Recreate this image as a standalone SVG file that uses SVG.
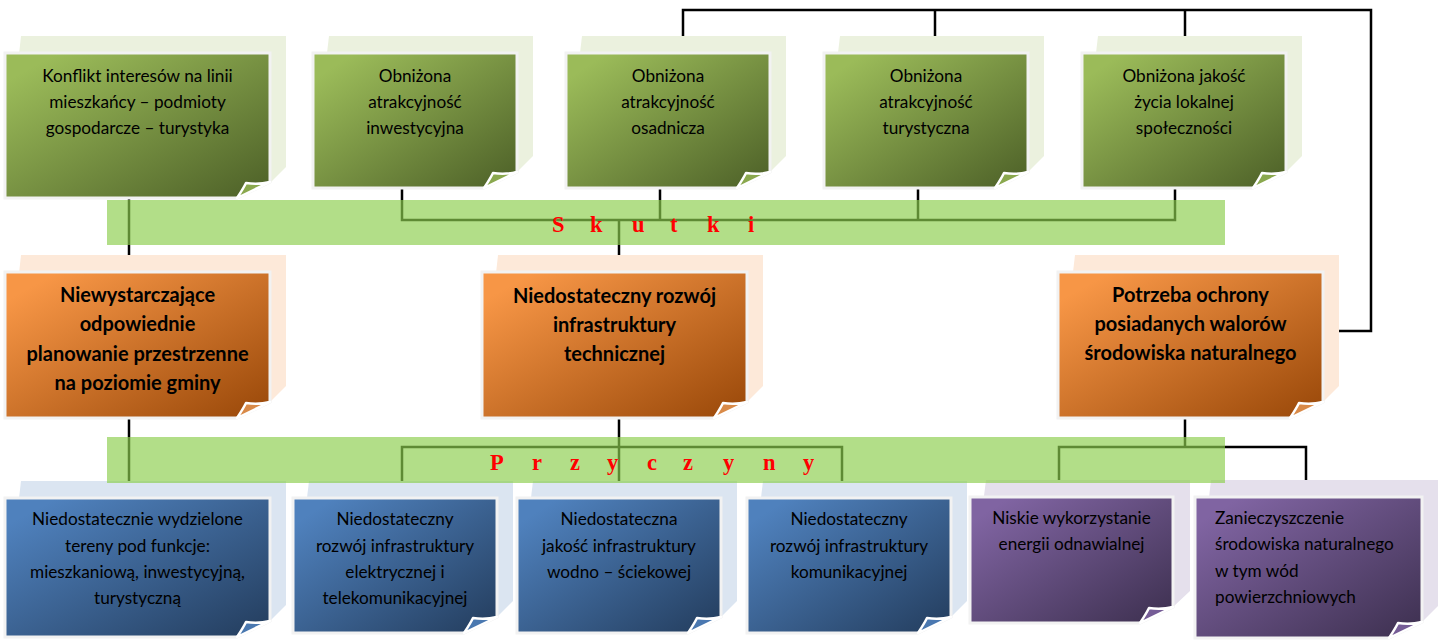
<svg xmlns="http://www.w3.org/2000/svg" width="1445" height="641" viewBox="0 0 1445 641">
<defs>
<linearGradient id="gG" x1="0" y1="0" x2="1" y2="1"><stop offset="0.1" stop-color="#9bbb59"/><stop offset="1" stop-color="#4c5f27"/></linearGradient>
<linearGradient id="gO" x1="0" y1="0" x2="1" y2="1"><stop offset="0.1" stop-color="#f79646"/><stop offset="1" stop-color="#984708"/></linearGradient>
<linearGradient id="gB" x1="0" y1="0" x2="1" y2="1"><stop offset="0.1" stop-color="#4f81bd"/><stop offset="1" stop-color="#233c5c"/></linearGradient>
<linearGradient id="gP" x1="0" y1="0" x2="1" y2="1"><stop offset="0.1" stop-color="#8064a2"/><stop offset="1" stop-color="#3c2f4e"/></linearGradient>
<style>
.bkG{fill:#ebf1de}.bkO{fill:#fde9d9}.bkB{fill:#dbe5f1}.bkP{fill:#e5e0ec}
.fr{stroke:#f2f2f2;stroke-width:3}
.fG{fill:url(#gG)}.fO{fill:url(#gO)}.fB{fill:url(#gB)}.fP{fill:url(#gP)}
.fold{stroke:#ffffff;stroke-width:2.5;stroke-linejoin:round}
.flG{fill:#8aa84e}.flO{fill:#d98a48}.flB{fill:#4a78b0}.flP{fill:#755c96}
.t{font-family:Lato,"Liberation Sans",sans-serif;font-size:17.2px;fill:#000;text-anchor:middle}
.tb{font-family:Lato,"Liberation Sans",sans-serif;font-size:20px;font-weight:bold;fill:#000;text-anchor:middle}
.tl{text-anchor:start}
.ln{fill:none;stroke:#000;stroke-width:2.5;stroke-linejoin:miter}
.bar{fill:rgb(140,206,78);fill-opacity:0.67}
.bt{font-family:"Liberation Serif",serif;font-size:22.5px;font-weight:bold;fill:#ff0000}
</style>
</defs>
<rect width="1445" height="641" fill="#ffffff"/>

<g id="connectors">
<path class="ln" d="M683,36 V10 H1371 V331 H1338"/>
<path class="ln" d="M935,10 V36"/>
<path class="ln" d="M1185,10 V36"/>
<path class="ln" d="M129,198 V272"/>
<path class="ln" d="M402,188 V220 H1175 V188"/>
<path class="ln" d="M918,188 V220"/>
<path class="ln" d="M660,188 V220"/>
<path class="ln" d="M619,220 V272"/>
<path class="ln" d="M129,418 V498"/>
<path class="ln" d="M619,418 V498"/>
<path class="ln" d="M402,485 V447 H842 V485"/>
<path class="ln" d="M1185,418 V447"/>
<path class="ln" d="M1059,482 V447 H1306 V482"/>
</g>

<g id="g1">
<path class="bkG" d="M21,36 H286 V167 L270,183 H5 Z"/>
<path class="fr fG" d="M5,53 H270 V182 L237,198 H5 Z"/>
<path class="fold flG" d="M237,198 Q243,189 246,183 Q258,185 270,182 Z"/>
<text class="t"><tspan x="137.5" y="82">Konflikt interesów na linii</tspan><tspan x="137.5" y="108">mieszkańcy – podmioty</tspan><tspan x="137.5" y="134">gospodarcze – turystyka</tspan></text>
</g>
<g id="g2">
<path class="bkG" d="M329,36 H533 V156 L517,172 H313 Z"/>
<path class="fr fG" d="M313,53 H517 V172 L484,188 H313 Z"/>
<path class="fold flG" d="M484,188 Q490,179 493,173 Q505,175 517,172 Z"/>
<text class="t"><tspan x="415" y="82">Obniżona</tspan><tspan x="415" y="108">atrakcyjność</tspan><tspan x="415" y="134">inwestycyjna</tspan></text>
</g>
<g id="g3">
<path class="bkG" d="M582,36 H786 V156 L770,172 H566 Z"/>
<path class="fr fG" d="M566,53 H770 V172 L737,188 H566 Z"/>
<path class="fold flG" d="M737,188 Q743,179 746,173 Q758,175 770,172 Z"/>
<text class="t"><tspan x="668" y="82">Obniżona</tspan><tspan x="668" y="108">atrakcyjność</tspan><tspan x="668" y="134">osadnicza</tspan></text>
</g>
<g id="g4">
<path class="bkG" d="M840,36 H1044 V156 L1028,172 H824 Z"/>
<path class="fr fG" d="M824,53 H1028 V172 L995,188 H824 Z"/>
<path class="fold flG" d="M995,188 Q1001,179 1004,173 Q1016,175 1028,172 Z"/>
<text class="t"><tspan x="926" y="82">Obniżona</tspan><tspan x="926" y="108">atrakcyjność</tspan><tspan x="926" y="134">turystyczna</tspan></text>
</g>
<g id="g5">
<path class="bkG" d="M1098,36 H1302 V156 L1286,172 H1082 Z"/>
<path class="fr fG" d="M1082,53 H1286 V172 L1253,188 H1082 Z"/>
<path class="fold flG" d="M1253,188 Q1259,179 1262,173 Q1274,175 1286,172 Z"/>
<text class="t"><tspan x="1184" y="82">Obniżona jakość</tspan><tspan x="1184" y="108">życia lokalnej</tspan><tspan x="1184" y="134">społeczności</tspan></text>
</g>

<g id="o1">
<path class="bkO" d="M21,255 H286 V386 L270,402 H5 Z"/>
<path class="fr fO" d="M5,272 H270 V402 L237,418 H5 Z"/>
<path class="fold flO" d="M237,418 Q243,409 246,403 Q258,405 270,402 Z"/>
<text class="tb"><tspan x="137.5" y="302">Niewystarczające</tspan><tspan x="137.5" y="331">odpowiednie</tspan><tspan x="137.5" y="361">planowanie przestrzenne</tspan><tspan x="137.5" y="390">na poziomie gminy</tspan></text>
</g>
<g id="o2">
<path class="bkO" d="M498,255 H763 V386 L747,402 H482 Z"/>
<path class="fr fO" d="M482,272 H747 V402 L714,418 H482 Z"/>
<path class="fold flO" d="M714,418 Q720,409 723,403 Q735,405 747,402 Z"/>
<text class="tb"><tspan x="614.5" y="303">Niedostateczny rozwój</tspan><tspan x="614.5" y="332">infrastruktury</tspan><tspan x="614.5" y="361">technicznej</tspan></text>
</g>
<g id="o3">
<path class="bkO" d="M1075,255 H1339 V386 L1323,402 H1058 Z"/>
<path class="fr fO" d="M1058,272 H1323 V402 L1290,418 H1058 Z"/>
<path class="fold flO" d="M1290,418 Q1296,409 1299,403 Q1311,405 1323,402 Z"/>
<text class="tb"><tspan x="1190.5" y="302">Potrzeba ochrony</tspan><tspan x="1190.5" y="331">posiadanych walorów</tspan><tspan x="1190.5" y="360">środowiska naturalnego</tspan></text>
</g>

<g id="b1">
<path class="bkB" d="M21,481 H286 V605 L270,621 H5 Z"/>
<path class="fr fB" d="M5,498 H270 V621 L237,637 H5 Z"/>
<path class="fold flB" d="M237,637 Q243,628 246,622 Q258,624 270,621 Z"/>
<text class="t"><tspan x="137.5" y="525">Niedostatecznie wydzielone</tspan><tspan x="137.5" y="552">tereny pod funkcje:</tspan><tspan x="137.5" y="578">mieszkaniową, inwestycyjną,</tspan><tspan x="137.5" y="604">turystyczną</tspan></text>
</g>
<g id="b2">
<path class="bkB" d="M309,481 H513 V601 L497,617 H293 Z"/>
<path class="fr fB" d="M293,498 H497 V617 L464,633 H293 Z"/>
<path class="fold flB" d="M464,633 Q470,624 473,618 Q485,620 497,617 Z"/>
<text class="t"><tspan x="395" y="525">Niedostateczny</tspan><tspan x="395" y="552">rozwój infrastruktury</tspan><tspan x="395" y="578">elektrycznej i</tspan><tspan x="395" y="604">telekomunikacyjnej</tspan></text>
</g>
<g id="b3">
<path class="bkB" d="M533,481 H737 V601 L721,617 H517 Z"/>
<path class="fr fB" d="M517,498 H721 V617 L688,633 H517 Z"/>
<path class="fold flB" d="M688,633 Q694,624 697,618 Q709,620 721,617 Z"/>
<text class="t"><tspan x="619" y="525">Niedostateczna</tspan><tspan x="619" y="552">jakość infrastruktury</tspan><tspan x="619" y="578">wodno – ściekowej</tspan></text>
</g>
<g id="b4">
<path class="bkB" d="M763,481 H967 V601 L951,617 H747 Z"/>
<path class="fr fB" d="M747,498 H951 V617 L918,633 H747 Z"/>
<path class="fold flB" d="M918,633 Q924,624 927,618 Q939,620 951,617 Z"/>
<text class="t"><tspan x="849" y="525">Niedostateczny</tspan><tspan x="849" y="552">rozwój infrastruktury</tspan><tspan x="849" y="578">komunikacyjnej</tspan></text>
</g>
<g id="p1">
<path class="bkP" d="M986,480 H1190 V591 L1173,607 H970 Z"/>
<path class="fr fP" d="M970,497 H1173 V607 L1140,623 H970 Z"/>
<path class="fold flP" d="M1140,623 Q1146,614 1149,608 Q1161,610 1173,607 Z"/>
<text class="t"><tspan x="1071.5" y="524">Niskie wykorzystanie</tspan><tspan x="1071.5" y="550">energii odnawialnej</tspan></text>
</g>
<g id="p2">
<path class="bkP" d="M1211,480 H1438 V606 L1422,622 H1195 Z"/>
<path class="fr fP" d="M1195,497 H1422 V622 L1389,638 H1195 Z"/>
<path class="fold flP" d="M1389,638 Q1395,629 1398,623 Q1410,625 1422,622 Z"/>
<text class="t tl"><tspan x="1215" y="524">Zanieczyszczenie</tspan><tspan x="1215" y="550">środowiska naturalnego</tspan><tspan x="1215" y="577">w tym wód</tspan><tspan x="1215" y="603">powierzchniowych</tspan></text>
</g>

<g id="skutki">
<rect class="bar" x="107" y="200" width="1118" height="45"/>
<text class="bt" y="232"><tspan x="552">S</tspan> <tspan x="590">k</tspan> <tspan x="632">u</tspan> <tspan x="670">t</tspan> <tspan x="707">k</tspan> <tspan x="748">i</tspan></text>
</g>
<g id="przyczyny">
<rect class="bar" x="107" y="437" width="1118" height="46"/>
<text class="bt" y="470"><tspan x="490">P</tspan> <tspan x="532">r</tspan> <tspan x="570">z</tspan> <tspan x="607">y</tspan> <tspan x="647">c</tspan> <tspan x="683">z</tspan> <tspan x="723">y</tspan> <tspan x="763">n</tspan> <tspan x="803">y</tspan></text>
</g>
</svg>
